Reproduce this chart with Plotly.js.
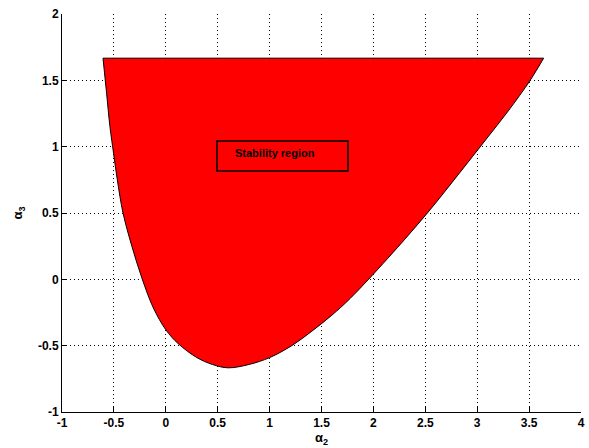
<!DOCTYPE html>
<html>
<head>
<meta charset="utf-8">
<script src="https://cdn.plot.ly/plotly-3.0.1.min.js"></script>
<style>html,body{margin:0;padding:0;background:#fff;}#chart{width:589px;height:448px;}</style>
</head>
<body>
<div id="chart"></div>
<script>
// Boundary of the stability region (alpha2, alpha3),
// from the top-right corner down the right branch, across the bottom and up the left branch
const alpha2 = [3.64, 3.51, 3.3, 3.08, 2.828, 2.52, 2.137, 1.775, 1.6, 1.4, 1.213, 1.0, 0.8,
  0.6, 0.45, 0.3, 0.12, 0.0, -0.12, -0.226, -0.327, -0.412, -0.467, -0.503, -0.538, -0.57, -0.605];
const alpha3 = [1.667, 1.5, 1.27, 1.05, 0.8, 0.5, 0.157, -0.145, -0.27, -0.395, -0.5, -0.59, -0.642,
  -0.667, -0.642, -0.59, -0.485, -0.38, -0.215, 0.0, 0.25, 0.5, 0.75, 0.95, 1.15, 1.4, 1.667];
const tickVals = [-1, -0.5, 0, 0.5, 1, 1.5, 2, 2.5, 3, 3.5, 4];
const yTickVals = [-1, -0.5, 0, 0.5, 1, 1.5, 2];
const labelText = 'Stability region';
const labelBox = {x0: 0.493, x1: 1.755, y0: 0.817, y1: 1.043};
const labelPos = {x: 0.647, y: 0.952};

const FONT = 'Liberation Sans, Arial, sans-serif';
const fmt = v => '<b>' + String(v) + '</b>';

const region = {
  x: alpha2, y: alpha3, type: 'scatter', mode: 'lines',
  fill: 'toself', fillcolor: '#ff0000',
  line: {color: '#000000', width: 1, shape: 'spline', smoothing: 1},
  hoverinfo: 'skip', showlegend: false
};
// closing top edge, from the last boundary point back to the first
const n = alpha2.length - 1;
const topEdge = {
  x: [alpha2[n], alpha2[0]], y: [alpha3[n], alpha3[0]], type: 'scatter', mode: 'lines',
  line: {color: '#000000', width: 1}, hoverinfo: 'skip', showlegend: false
};

const axisCommon = {
  showline: true, linecolor: '#000', linewidth: 1,
  showgrid: true, gridcolor: '#000', gridwidth: 1, griddash: '1px,3px',
  zeroline: false, ticks: 'inside', ticklen: 5, tickcolor: '#000',
  tickmode: 'array', tickfont: {family: FONT, size: 12, color: '#000'},
  mirror: false
};

const layout = {
  width: 589, height: 448,
  margin: {l: 62, r: 8, t: 14, b: 36},
  paper_bgcolor: '#fff', plot_bgcolor: '#fff',
  font: {family: FONT, color: '#000'},
  xaxis: Object.assign({}, axisCommon, {
    range: [-1, 4], tickvals: tickVals, ticktext: tickVals.map(fmt),
    title: {text: '<b>α<sub>2</sub></b>', font: {family: FONT, size: 13}, standoff: 2}
  }),
  yaxis: Object.assign({}, axisCommon, {
    range: [-1, 2], tickvals: yTickVals, ticktext: yTickVals.map(fmt),
    title: {text: '<b>α<sub>3</sub></b>', font: {family: FONT, size: 13}, standoff: 12}
  }),
  shapes: [{
    type: 'rect', xref: 'x', yref: 'y',
    x0: labelBox.x0, x1: labelBox.x1, y0: labelBox.y0, y1: labelBox.y1,
    line: {color: '#000', width: 1.5}, fillcolor: 'rgba(0,0,0,0)'
  }],
  annotations: [{
    x: labelPos.x, y: labelPos.y, xref: 'x', yref: 'y',
    text: '<b>' + labelText + '</b>', showarrow: false,
    xanchor: 'left', yanchor: 'middle',
    font: {family: FONT, size: 11, color: '#000'}
  }]
};

Plotly.newPlot('chart', [region, topEdge], layout, {staticPlot: true, displayModeBar: false});
</script>
</body>
</html>
